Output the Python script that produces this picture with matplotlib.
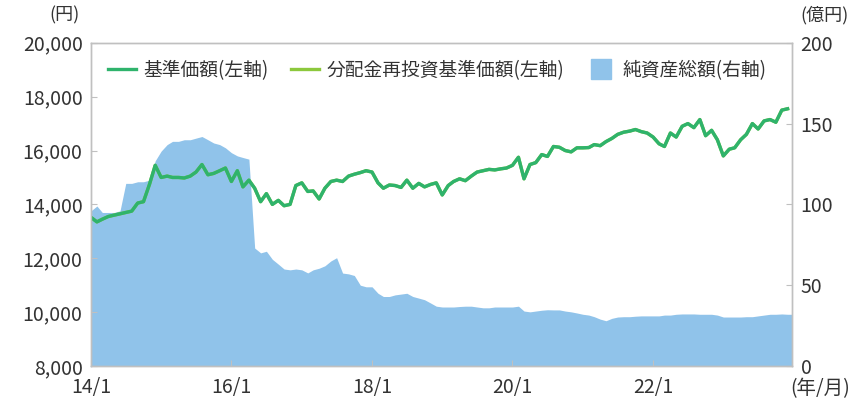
import numpy as np
import pandas as pd
import matplotlib
matplotlib.use('Agg')
import matplotlib.pyplot as plt
from matplotlib.lines import Line2D

plt.rcParams['font.family'] = ['Noto Sans CJK JP', 'DejaVu Sans']

# monthly data, 2014/1 - 2023/12
dates = pd.date_range('2014-01-01', periods=120, freq='MS')
end_date = pd.Timestamp('2023-12-25')

nav = [13520, 13350, 13450, 13550, 13600, 13650, 13700, 13750, 14050, 14100,
       14740, 15450, 15000, 15050, 15000, 15000, 14980, 15050, 15200, 15480,
       15100, 15150, 15250, 15350, 14850, 15250, 14650, 14900, 14600, 14100,
       14400, 14000, 14150, 13950, 14000, 14700, 14800, 14480, 14500, 14200,
       14600, 14850, 14900, 14850, 15050, 15120, 15180, 15250, 15200, 14800,
       14600, 14720, 14700, 14630, 14900, 14600, 14780, 14650, 14740, 14800,
       14350, 14700, 14850, 14950, 14880, 15050, 15200, 15250, 15300, 15280,
       15320, 15350, 15450, 15750, 14950, 15480, 15550, 15850, 15780, 16150,
       16120, 16000, 15950, 16100, 16100, 16110, 16220, 16180, 16330, 16450,
       16600, 16680, 16720, 16780, 16700, 16650, 16500, 16250, 16150, 16650,
       16500, 16900, 17000, 16850, 17150, 16550, 16750, 16400, 15800, 16050,
       16100, 16400, 16600, 17000, 16800, 17100, 17150, 17050, 17500, 17550]

# no distributions paid -> same as nav
nav_reinvest = list(nav)

aum = [96, 99, 95, 95, 95, 96, 113, 113, 114, 114,
       115, 127, 133, 137, 139, 139, 140, 140, 141, 142,
       140, 138, 137, 135, 132, 130, 129, 128, 73, 70,
       71, 66, 63, 60, 59.5, 60, 59.5, 57.6, 59.5, 60.5,
       62, 65, 67, 57.5, 57, 56, 50, 49, 49, 45,
       43, 43, 44, 44.5, 45, 43, 42, 41, 39, 37,
       36.5, 36.5, 36.5, 36.8, 37, 37, 36.5, 36, 36, 36.5,
       36.5, 36.5, 36.5, 37, 34, 33.5, 34, 34.5, 34.8, 34.7,
       34.7, 34, 33.5, 32.8, 32, 31.5, 30.5, 29, 28, 29.5,
       30.3, 30.5, 30.5, 30.8, 31, 31, 31, 31, 31.5, 31.5,
       32, 32.2, 32.2, 32.2, 32, 32, 32, 31.5, 30.3, 30.3,
       30.3, 30.3, 30.5, 30.5, 31, 31.5, 32, 32, 32.2, 32]

tick_dates = pd.to_datetime(['2014-01-01', '2016-01-01', '2018-01-01', '2020-01-01', '2022-01-01'])
tick_labels = ['14/1', '16/1', '18/1', '20/1', '22/1']

c_nav = '#2fb36c'
c_re = '#8cc83c'
c_aum = '#90c3ea'
c_frame = '#c0c0c0'
c_text = '#333333'

fig = plt.figure(figsize=(8.5, 4.01), dpi=100)
ax = fig.add_axes([0.107, 0.0873, 0.825, 0.806])
ax2 = ax.twinx()

# fill carried on to the right edge
fill_x = list(dates) + [end_date]
fill_y = aum + [aum[-1]]
ax2.fill_between(fill_x, fill_y, 0, color=c_aum, lw=0)
ax2.set_ylim(0, 200)
ax2.set_yticks([0, 50, 100, 150, 200])

ax.plot(dates, nav_reinvest, color=c_re, lw=2.4)
ax.plot(dates, nav, color=c_nav, lw=2.4)
ax.set_ylim(8000, 20000)
ax.set_yticks(range(8000, 20001, 2000))
ax.set_yticklabels(['{:,}'.format(v) for v in range(8000, 20001, 2000)])
ax.set_xlim(pd.Timestamp('2014-01-01'), end_date)
ax.set_xticks(tick_dates)
ax.set_xticklabels(tick_labels)

ax.set_zorder(ax2.get_zorder() + 1)
ax.patch.set_visible(False)

for a in (ax, ax2):
    for s in a.spines.values():
        s.set_color(c_frame)
        s.set_linewidth(1)
    a.tick_params(direction='in', length=4, color=c_frame, labelsize=14,
                  labelcolor=c_text, pad=6)
ax.tick_params(axis='x', pad=8)

fig.text(0.094, 0.94, '(円)', ha='right', va='bottom', fontsize=13, color=c_text)
fig.text(0.998, 0.94, '(億円)', ha='right', va='bottom', fontsize=13, color=c_text)
fig.text(1.0, 0.03, '(年/月)', ha='right', va='center', fontsize=14, color=c_text)

handles = [Line2D([], [], color=c_nav, lw=2.4),
           Line2D([], [], color=c_re, lw=2.4),
           Line2D([], [], color=c_aum, marker='s', markersize=15, linestyle='none')]
labels = ['基準価額(左軸)', '分配金再投資基準価額(左軸)', '純資産総額(右軸)']
ax.legend(handles, labels, loc='upper left', bbox_to_anchor=(0.0, 1.0), ncol=3,
          frameon=False, fontsize=13.5, handlelength=1.5, handletextpad=0.4,
          columnspacing=1.2, labelcolor=c_text)

plt.savefig('out.png', dpi=100)
